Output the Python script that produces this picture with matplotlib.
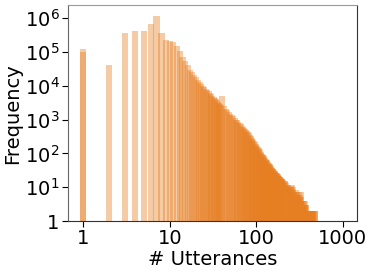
import numpy as np
import matplotlib
matplotlib.use("Agg")
import matplotlib.pyplot as plt
from matplotlib.ticker import FixedLocator, FixedFormatter, NullLocator

# number of utterances per dialogue and how often it occurs
utterances = (list(range(1, 41)) + list(range(42, 101, 2))
              + list(range(102, 201, 2)) + list(range(204, 481, 4)))
frequency = [1.2e5, 4.0e4, 3.6e5, 4.1e5, 4.2e5, 6.5e5, 1.15e6, 3.6e5, 2.3e5, 2.1e5,
             2.0e5, 1.5e5, 1.1e5, 7.0e4, 5.5e4, 4.2e4, 3.0e4, 2.6e4, 2.1e4, 1.8e4,
             1.5e4, 1.3e4, 1.15e4, 1.0e4, 9.0e3, 8.2e3, 7.5e3, 6.8e3, 6.2e3, 5.6e3,
             5.1e3, 4.7e3, 4.3e3, 4.0e3, 3.7e3, 3.4e3, 3.1e3, 2.9e3, 2.7e3, 5.0e3,
             # 42 .. 100, every 2
             2.5e3, 2.1e3, 1.9e3, 1.65e3, 1.5e3, 1.35e3, 1.25e3, 1.1e3, 1.0e3, 950,
             860, 790, 720, 660, 610, 570, 530, 500, 470, 430,
             390, 350, 320, 290, 265, 250, 230, 215, 195, 180,
             # 102 .. 200, every 2
             168, 155, 145, 135, 122, 110, 103, 97, 92, 88,
             83, 78, 73, 68, 65, 62, 59, 56, 53, 50,
             47, 44, 42, 40, 38, 37, 35, 34, 32, 31,
             30, 29, 28, 27, 26, 26, 25, 24, 23, 22,
             22, 21, 20, 20, 19, 19, 18, 18, 17, 16,
             # 204 .. 480, every 4
             16, 15, 15, 14, 13, 12, 11, 12, 10, 10,
             9, 11, 10, 12, 9, 10, 8, 7, 6, 7,
             6, 8, 6, 7, 5, 6, 5, 7, 5, 6,
             5, 7, 4, 4, 3, 3, 4, 4, 3, 3,
             2, 4, 3, 3, 2, 2, 2, 2, 1, 2,
             2, 2, 1, 2, 2, 2, 1, 2, 2, 2,
             1, 1, 2, 2, 1, 1, 2, 2, 1, 2]

# second overlaid series (only differs at one utterance)
extra_utterances = [1]
extra_frequency = [1.0e5]

y_ticks = [1, 1e1, 1e2, 1e3, 1e4, 1e5, 1e6]
y_labels = ['1', r'$10^{1}$', r'$10^{2}$', r'$10^{3}$', r'$10^{4}$', r'$10^{5}$', r'$10^{6}$']
x_ticks = [1, 10, 100, 1000]
x_labels = ['1', '10', '100', '1000']

color = '#e67e22'
half = 10 ** 0.035  # bars have a constant width on the log axis


def log_bars(ax, xs, ys):
    xs = np.array(xs, dtype=float)
    left = xs / half
    ax.bar(left, ys, width=xs * half - left, align='edge', color=color,
           alpha=0.4, linewidth=0)


fig = plt.figure(figsize=(3.74, 2.74), dpi=100)
ax = fig.add_axes([0.1818, 0.1934, 0.7727, 0.7873])

ax.set_xscale('log')
ax.set_yscale('log')
log_bars(ax, utterances, frequency)
log_bars(ax, extra_utterances, extra_frequency)

ax.set_xlim(0.664, 1455)
ax.set_ylim(1, 2.4e6)

ax.xaxis.set_major_locator(FixedLocator(x_ticks))
ax.xaxis.set_major_formatter(FixedFormatter(x_labels))
ax.yaxis.set_major_locator(FixedLocator(y_ticks))
ax.yaxis.set_major_formatter(FixedFormatter(y_labels))
ax.xaxis.set_minor_locator(NullLocator())
ax.yaxis.set_minor_locator(NullLocator())
ax.tick_params(labelsize=14, length=4, width=0.8, pad=2)

ax.set_xlabel('# Utterances', fontsize=14, labelpad=1)
ax.set_ylabel('Frequency', fontsize=14, labelpad=2)

ax.spines['top'].set_color('#999999')
ax.spines['left'].set_color('#666666')
ax.spines['right'].set_color('#333333')
ax.spines['bottom'].set_color('#333333')

fig.savefig('out.png', dpi=100)
